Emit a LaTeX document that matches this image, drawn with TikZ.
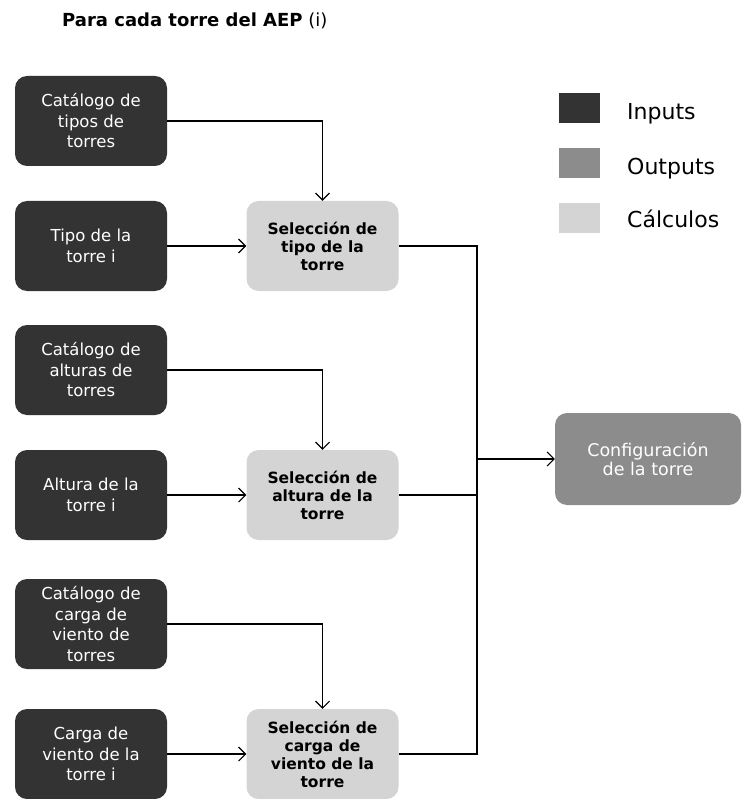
\documentclass[tikz,border=0pt]{standalone}
\usepackage{fontspec}
\setmainfont{DejaVu Sans}
\usetikzlibrary{arrows.meta}

\definecolor{inputgray}{gray}{0.2}
\definecolor{outputgray}{gray}{0.55}
\definecolor{calcgray}{gray}{0.83}

\tikzset{
  box/.style={rounded corners=12pt, minimum width=152pt, minimum height=90pt,
    align=center, inner sep=2pt},
  inbox/.style={box, fill=inputgray, text=white,
    font=\fontsize{16.5}{20.5}\selectfont},
  calcbox/.style={box, fill=calcgray,
    font=\fontsize{15.5}{18}\selectfont\bfseries},
  outbox/.style={box, fill=outputgray, text=white, minimum width=186pt,
    minimum height=92pt, font=\fontsize{17.5}{19}\selectfont},
  link/.style={line width=1.1pt},
  flow/.style={link, -{Straight Barb[length=7pt,width=14pt]}},
  swatch/.style={minimum width=41pt, minimum height=30pt, inner sep=0pt},
  legendtext/.style={anchor=base west, inner sep=0pt,
    font=\fontsize{22}{24}\selectfont}
}
\newcommand{\legenditem}[5]{%
  \node[swatch, fill=#2] (#1) at (579.5,#3) {};
  \node[legendtext] (#1text) at (627,#4) {#5};
}

\begin{document}
\begin{tikzpicture}[x=1pt,y=-1pt]
  \useasboundingbox (0,0) rectangle (743,799);
  \node[anchor=base west, inner sep=0pt, font=\fontsize{18}{20}\selectfont]
    (title) at (62,27) {\textbf{Para cada torre del AEP} (i)};

  % inputs
  \node[inbox] (cattipo) at (91,121) {Catálogo de\\tipos de\\torres};
  \node[inbox] (tipo) at (91,246) {Tipo de la\\torre i};
  \node[inbox] (catalt) at (91,370) {Catálogo de\\alturas de\\torres};
  \node[inbox] (alt) at (91,495) {Altura de la\\torre i};
  \node[inbox] (catcarga) at (91,624) {Catálogo de\\carga de\\viento de\\torres};
  \node[inbox] (carga) at (91,754) {Carga de\\viento de la\\torre i};

  % calculos
  \node[calcbox] (seltipo) at (322.5,246) {Selección de\\tipo de la\\torre};
  \node[calcbox] (selalt) at (322.5,495) {Selección de\\altura de la\\torre};
  \node[calcbox] (selcarga) at (322.5,754) {Selección de\\carga de\\viento de la\\torre};

  % output
  \node[outbox] (config) at (648,459) {Configuración\\de la torre};
  \coordinate (bus) at (477,459);

  \draw[flow] (cattipo.east) -| (seltipo.north);
  \draw[flow] (tipo.east) -- (seltipo.west);
  \draw[flow] (catalt.east) -| (selalt.north);
  \draw[flow] (alt.east) -- (selalt.west);
  \draw[flow] (catcarga.east) -| (selcarga.north);
  \draw[flow] (carga.east) -- (selcarga.west);

  \draw[link] (seltipo.east) -| (bus);
  \draw[link] (selalt.east) -| (bus);
  \draw[link] (selcarga.east) -| (bus);
  \draw[flow] (bus) -- (config.west);

  % legend
  \legenditem{leginput}{inputgray}{108}{120}{Inputs}
  \legenditem{legoutput}{outputgray}{163}{175}{Outputs}
  \legenditem{legcalc}{calcgray}{218.5}{228}{Cálculos}
\end{tikzpicture}
\end{document}
